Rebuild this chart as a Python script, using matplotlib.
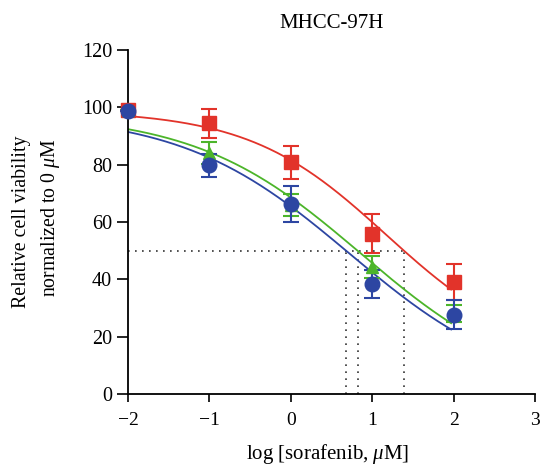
import numpy as np
import matplotlib
matplotlib.use("Agg")
import matplotlib.pyplot as plt

plt.rcParams["font.family"] = ["Liberation Serif", "DejaVu Serif"]
plt.rcParams["mathtext.fontset"] = "custom"
plt.rcParams["mathtext.rm"] = "Liberation Serif"
plt.rcParams["mathtext.it"] = "Liberation Serif:italic"

# log10 sorafenib concentration (uM)
log_dose = [-2, -1, 0, 1, 2]

# mean viability (% of 0 uM) and error per series
red_mean = [99.0, 94.5, 80.8, 56.0, 39.0]
red_err = [0.0, 5.1, 5.6, 6.8, 6.2]
green_mean = [99.0, 84.2, 66.0, 44.3, 28.0]
green_err = [0.0, 3.8, 3.9, 3.8, 3.0]
blue_mean = [98.8, 79.8, 66.4, 38.4, 27.7]
blue_err = [0.0, 4.0, 6.3, 5.0, 5.0]

# four-parameter logistic fits: top, bottom, logEC50, hill slope
red_fit = [99.0, 12.0, 1.175, 0.5125]
green_fit = [98.0, 0.0, 0.862, 0.426]
blue_fit = [98.0, 0.0, 0.722, 0.4207]

x_ticks = [-2, -1, 0, 1, 2, 3]
x_tick_labels = ["\u22122", "\u22121", "0", "1", "2", "3"]
y_ticks = [0, 20, 40, 60, 80, 100, 120]

RED = "#e2332a"
GREEN = "#4cb52a"
BLUE = "#2d46a2"


def logistic(x, p):
    top, bottom, c, h = p
    return bottom + (top - bottom) / (1.0 + 10 ** (h * (x - c)))


def crossing(level, p):
    top, bottom, c, h = p
    return c + np.log10((top - bottom) / (level - bottom) - 1.0) / h


fig = plt.figure(figsize=(5.4, 4.73), dpi=100)
ax = fig.add_axes([0.237, 0.167, 0.7537, 0.727])

xx = np.linspace(-2, 1.97, 300)
for p, col in [(red_fit, RED), (green_fit, GREEN), (blue_fit, BLUE)]:
    ax.plot(xx, logistic(xx, p), color=col, lw=1.3, zorder=2)

# half-maximal guides
dots = (0, (1, 3.2))
xr = crossing(50, red_fit)
ax.plot([-2, xr], [50, 50], color="#333333", lw=1.2, ls=dots, zorder=1)
for p in (red_fit, green_fit, blue_fit):
    xc = crossing(50, p)
    ax.plot([xc, xc], [0, 50], color="#333333", lw=1.2, ls=dots, zorder=1)

for mean, err, col, mk, ms in [
    (red_mean, red_err, RED, "s", 10.5),
    (green_mean, green_err, GREEN, "^", 9),
    (blue_mean, blue_err, BLUE, "o", 10.5),
]:
    ax.errorbar(log_dose, mean, yerr=err, fmt=mk, color=col, ms=ms,
                mec=col, ecolor=col, elinewidth=1.5, capsize=5.7,
                capthick=1.5, clip_on=False, zorder=3)

ax.set_xlim(-2, 3)
ax.set_ylim(0, 120)
ax.set_xticks(x_ticks)
ax.set_xticklabels(x_tick_labels)
ax.set_yticks(y_ticks)
ax.tick_params(axis="x", direction="out", length=6, width=1.2,
               labelsize=14, pad=7)
ax.tick_params(axis="y", direction="out", length=8, width=1.2,
               labelsize=14.5, pad=3.5)
for s in ("top", "right"):
    ax.spines[s].set_visible(False)
for s in ("left", "bottom"):
    ax.spines[s].set_linewidth(1.3)

ax.set_title("MHCC-97H", fontsize=15, pad=16)
ax.set_xlabel(r"log [sorafenib, $\mathit{\mu}$M]", fontsize=15)
ax.xaxis.set_label_coords(0.49, -0.14)

fig.text(22 / 540, 1 - 222 / 473, "Relative cell viability", rotation=90,
         ha="center", va="center", fontsize=14.3)
fig.text(51 / 540, 1 - 218 / 473, r"normalized to 0 $\mathit{\mu}$M",
         rotation=90, ha="center", va="center", fontsize=14.3)

fig.savefig("out.png", dpi=100)
